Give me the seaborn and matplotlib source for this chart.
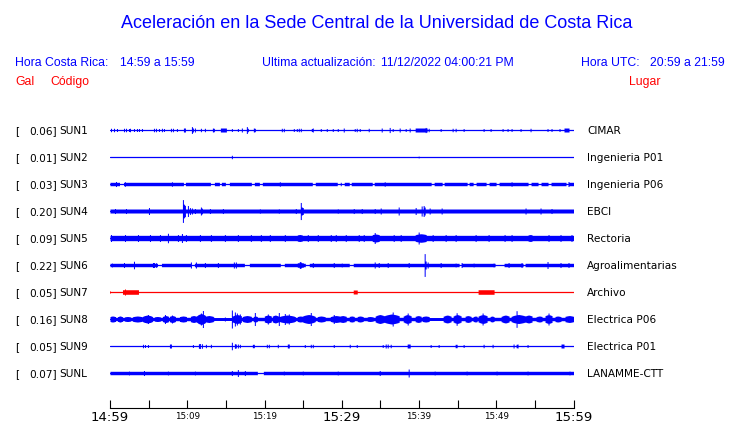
import numpy as np
import matplotlib
matplotlib.use("Agg")
import matplotlib.pyplot as plt
import matplotlib.transforms as mtransforms
import seaborn as sns

# ---------------- data ----------------
TITLE = "Aceleración en la Sede Central de la Universidad de Costa Rica"
LOCAL_LABEL = "Hora Costa Rica:"
LOCAL_RANGE = "14:59 a 15:59"
UPDATE_LABEL = "Ultima actualización:"
UPDATE_VALUE = "11/12/2022 04:00:21 PM"
UTC_LABEL = "Hora UTC:"
UTC_RANGE = "20:59 a 21:59"

CODES = ["SUN1", "SUN2", "SUN3", "SUN4", "SUN5", "SUN6", "SUN7", "SUN8", "SUN9", "SUNL"]
PLACES = ["CIMAR", "Ingenieria P01", "Ingenieria P06", "EBCI", "Rectoria",
          "Agroalimentarias", "Archivo", "Electrica P06", "Electrica P01", "LANAMME-CTT"]
PEAK_GAL = [0.06, 0.01, 0.03, 0.20, 0.09, 0.22, 0.05, 0.16, 0.05, 0.07]
TRACE_COLORS = ["#0000ff"] * 6 + ["#ff0000"] + ["#0000ff"] * 3
# continuous noise band half-amplitude (Gal); 0 = plain line
BASE_GAL = [0.0, 0.0, 0.03, 0.035, 0.047, 0.03, 0.0, 0.03, 0.0, 0.03]
# envelope shape of the bursts of each trace
BURST_SHAPE = ["block", "block", "block", "block", "spindle",
               "block", "block", "spindle", "block", "block"]

# minutes after 14:59 -> half amplitude (Gal)
SPIKES_SUN1 = [(0.13, .03), (0.56, .03), (0.9, .026), (1.85, .03), (2.1, .03), (2.4, .026), (2.6, .03),
               (3.14, .026), (3.5, .026), (3.8, .026), (4.1, .026), (5.7, .03), (5.9, .03), (6.4, .026),
               (6.7, .03), (7.0, .026), (7.9, .03), (8.2, .03), (8.6, .026), (9.55, .035), (9.7, .035),
               (10.6, .06), (10.75, .035), (11.0, .035), (11.75, .03), (12.26, .03), (13.3, .035),
               (13.5, .03), (15.8, .026), (16.5, .026), (17.1, .035), (17.7, .06), (17.9, .03),
               (18.6, .035), (18.8, .03), (22.3, .03), (22.5, .03), (23.8, .026), (24.2, .026),
               (24.5, .03), (24.7, .03), (26.1, .026), (26.3, .035), (27.3, .026), (28.1, .026),
               (28.9, .026), (29.5, .026), (30.3, .035), (31.7, .026), (32.0, .03), (32.3, .026),
               (33.5, .03), (35.2, .035), (36.2, .045), (36.6, .026), (37.5, .035), (38.3, .026),
               (38.8, .035), (40.8, .045), (41.3, .03), (42.8, .026), (44.3, .03), (44.8, .03),
               (45.8, .026), (48.3, .026), (49.3, .026), (50.8, .026), (51.5, .026), (52.0, .026),
               (53.1, .026), (54.5, .03), (56.6, .026), (57.2, .026), (58.2, .026), (59.1, .035)]
BURSTS_SUN1 = [(14.3, 15.05, .035), (39.6, 41.0, .035), (58.9, 59.3, .035)]
GAPS_SUN1 = []

SPIKES_SUN2 = [(15.8, .03), (39.9, .015)]
BURSTS_SUN2 = []
GAPS_SUN2 = []

SPIKES_SUN3 = [(0.77, .044), (2.0, .04), (8.0, .04), (22.0, .04), (35.5, .04), (52.0, .04), (59.4, .044)]
BURSTS_SUN3 = []
GAPS_SUN3 = [(1.29, 1.72, 0), (9.6, 9.75, 0), (13.0, 13.5, 0), (14.2, 14.4, 0), (15.05, 15.35, 0),
             (18.3, 18.6, 0), (19.35, 19.65, 0), (26.2, 26.45, 0), (29.45, 29.7, 0), (30.0, 30.2, 0),
             (31.0, 31.2, 0), (34.0, 34.2, 0), (41.7, 41.95, 0), (43.0, 43.2, 0), (46.25, 46.45, 0),
             (47.1, 47.3, 0), (48.8, 49.0, 0), (50.1, 50.3, 0), (54.2, 54.4, 0), (55.5, 55.7, 0),
             (56.8, 57.0, 0), (59.1, 59.35, 0)]

SPIKES_SUN4 = [(0.65, .044), (2.02, .044), (5.07, .061), (9.42, .2), (9.55, .12), (9.68, .1),
               (10.1, .096), (10.3, .06), (10.54, .053), (10.97, .044), (11.83, .07), (11.95, .05),
               (12.95, .044), (14.6, .044), (19.4, .04), (21.9, .04), (24.0, .044), (24.7, .15),
               (24.85, .07), (25.0, .061), (29.5, .04), (31.5, .044), (32.6, .044), (34.3, .044),
               (35.05, .053), (37.4, .07), (39.6, .061), (40.4, .088), (40.55, .096), (40.7, .07),
               (41.4, .053), (42.9, .053), (53.8, .053), (55.7, .053), (57.2, .044)]
BURSTS_SUN4 = []
GAPS_SUN4 = []

SPIKES_SUN5 = [(0.13, .061), (1.94, .061), (3.66, .061), (5.16, .061), (6.45, .061), (7.53, .083),
               (8.82, .061), (9.33, .079), (9.89, .061), (11.61, .061), (13.12, .061), (14.84, .061),
               (16.56, .061), (18.28, .061), (19.57, .061), (20.65, .061), (22.58, .061), (24.52, .061),
               (25.59, .061), (26.88, .061), (28.6, .061), (29.25, .061), (30.54, .061), (32.26, .061),
               (32.9, .061), (34.3, .096), (36.77, .061), (37.63, .061), (39.9, .105), (41.72, .061),
               (43.4, .061), (44.7, .061), (47.3, .061), (48.96, .061), (51.1, .061), (51.98, .061),
               (56.77, .061), (58.3, .061), (59.78, .061)]
BURSTS_SUN5 = [(33.97, 34.8, .07), (39.6, 40.9, .075), (24.3, 24.8, .061), (54.2, 54.6, .061)]
GAPS_SUN5 = []

SPIKES_SUN6 = [(0.2, .035), (1.85, .044), (3.1, .066), (5.5, .044), (5.75, .044), (5.95, .04),
               (10.45, .053), (11.18, .053), (12.34, .044), (13.98, .044), (16.0, .053), (16.25, .053),
               (24.55, .061), (24.7, .053), (26.24, .044), (29.03, .044), (30.0, .035), (34.3, .053),
               (34.8, .044), (35.9, .044), (38.7, .044), (40.7, .2), (40.85, .07), (41.1, .053),
               (42.8, .044), (44.7, .035), (45.5, .044), (47.1, .035), (49.7, .035), (51.6, .044),
               (53.3, .044), (56.7, .061), (58.3, .044), (59.4, .044)]
BURSTS_SUN6 = [(24.3, 24.9, .04)]
GAPS_SUN6 = [(6.24, 6.58, 0), (10.6, 10.9, 0), (17.4, 18.0, 0), (22.06, 22.5, 0), (25.4, 25.7, 0),
             (31.0, 31.4, 0), (45.2, 45.45, 0), (49.9, 51.0, 0), (53.5, 53.7, 0)]

SPIKES_SUN7 = [(0.0, .026), (1.9, .053)]
BURSTS_SUN7 = [(1.63, 3.66, .04), (31.6, 32.0, .035), (47.7, 49.7, .04)]
GAPS_SUN7 = []

SPIKES_SUN8 = [(4.9, .079), (7.1, .079), (7.96, .07), (11.83, .105), (12.04, .149), (14.84, .035),
               (15.78, .158), (16.13, .123), (16.47, .105), (16.77, .088), (18.71, .114), (20.43, .088),
               (21.8, .114), (22.58, .096), (23.2, .088), (26.02, .114), (29.0, .079), (36.56, .123),
               (38.49, .105), (44.82, .11), (48.26, .105), (52.69, .146), (56.77, .105)]
BURSTS_SUN8 = [(0.0, 0.65, .053), (1.08, 1.5, .053), (1.94, 2.58, .044), (3.0, 4.09, .053),
               (4.3, 5.38, .07), (5.8, 6.45, .044), (6.88, 7.53, .061), (7.74, 8.38, .061),
               (9.03, 9.89, .053), (10.45, 11.18, .061), (11.3, 12.3, .096), (12.26, 13.33, .061),
               (15.9, 17.0, .079), (17.2, 18.28, .061), (18.6, 19.0, .053), (20.0, 20.86, .07),
               (21.07, 21.72, .07), (22.0, 23.87, .07), (24.3, 24.95, .053), (24.95, 26.45, .079),
               (26.88, 27.74, .053), (28.6, 29.9, .061), (29.68, 30.54, .061), (30.97, 31.61, .053),
               (32.04, 32.69, .053), (33.33, 33.98, .044), (34.41, 35.48, .079), (35.48, 37.42, .088),
               (38.06, 38.92, .079), (39.57, 40.22, .061), (40.43, 41.29, .053), (43.22, 44.08, .07),
               (44.5, 45.38, .079), (46.0, 46.66, .061), (47.1, 47.5, .053), (47.74, 48.8, .079),
               (49.3, 49.6, .053), (50.75, 51.61, .07), (52.04, 53.76, .079), (53.76, 54.62, .07),
               (55.27, 55.91, .053), (56.34, 57.2, .079), (57.63, 58.28, .053), (58.92, 60.0, .061)]
GAPS_SUN8 = [(13.55, 15.7, .026), (41.29, 43.0, .026)]

SPIKES_SUN9 = [(4.3, .03), (4.5, .026), (4.95, .026), (7.75, .035), (7.85, .035), (10.75, .026),
               (11.5, .04), (11.7, .044), (11.9, .04), (12.47, .03), (13.1, .03), (15.83, .066),
               (16.1, .04), (16.3, .035), (16.56, .035), (16.8, .03), (18.5, .03), (18.65, .03),
               (20.3, .03), (20.5, .03), (21.7, .03), (23.0, .035), (23.2, .035), (25.16, .026),
               (26.0, .03), (26.2, .03), (29.03, .026), (31.0, .03), (32.0, .026), (35.3, .026),
               (35.7, .035), (36.0, .035), (36.3, .03), (41.5, .026), (42.6, .026), (44.7, .03),
               (44.9, .03), (45.8, .026), (48.4, .03), (49.5, .03), (52.3, .035), (52.6, .03),
               (52.8, .035), (54.0, .026)]
BURSTS_SUN9 = [(7.7, 7.9, .035), (38.5, 38.8, .035), (58.5, 58.75, .035)]
GAPS_SUN9 = []

SPIKES_SUNL = [(2.5, .035), (4.43, .044), (7.5, .035), (11.0, .035), (15.83, .044), (16.56, .061),
               (17.42, .044), (22.5, .035), (25.0, .035), (29.5, .035), (34.9, .044), (38.7, .07),
               (42.0, .035), (46.2, .035), (50.0, .035), (54.0, .035), (59.5, .035)]
BURSTS_SUNL = []
GAPS_SUNL = [(19.14, 19.78, 0)]

SPIKES = [SPIKES_SUN1, SPIKES_SUN2, SPIKES_SUN3, SPIKES_SUN4, SPIKES_SUN5,
          SPIKES_SUN6, SPIKES_SUN7, SPIKES_SUN8, SPIKES_SUN9, SPIKES_SUNL]
BURSTS = [BURSTS_SUN1, BURSTS_SUN2, BURSTS_SUN3, BURSTS_SUN4, BURSTS_SUN5,
          BURSTS_SUN6, BURSTS_SUN7, BURSTS_SUN8, BURSTS_SUN9, BURSTS_SUNL]
GAPS = [GAPS_SUN1, GAPS_SUN2, GAPS_SUN3, GAPS_SUN4, GAPS_SUN5,
        GAPS_SUN6, GAPS_SUN7, GAPS_SUN8, GAPS_SUN9, GAPS_SUNL]

TICK_MINUTES = [0, 5, 10, 15, 20, 25, 30, 35, 40, 45, 50, 55, 60]
TICK_LABELS_BIG = {0: "14:59", 30: "15:29", 60: "15:59"}
TICK_LABELS_SMALL = {10: "15:09", 20: "15:19", 40: "15:39", 50: "15:49"}

# ---------------- style ----------------
sns.set_theme(style="white")
plt.rcParams["font.family"] = ["DejaVu Sans"]
BLUE = "#0000ff"
RED = "#ff0000"
W, H = 740, 423
GAL_TO_UNITS = 57.0 / 27.0   # one trace spacing = 27 px

fig = plt.figure(figsize=(W / 100, H / 100), dpi=100)
fig.patch.set_facecolor("white")
ax = fig.add_axes([110 / W, (H - 408) / H, (573.5 - 110) / W, (408 - 115) / H])
ax.set_facecolor("white")
ax.set_xlim(0, 60)
ax.set_ylim(10.296, -0.556)

t = np.linspace(0, 60, 465)
dt = t[1] - t[0]
for i in range(len(CODES)):
    col = TRACE_COLORS[i]
    base = BASE_GAL[i]
    env = np.full_like(t, base)
    for (a, b, lo) in GAPS[i]:
        m = (t >= a - dt / 2) & (t <= b + dt / 2)
        env[m] = np.minimum(env[m], lo)
    for (a, b, amp) in BURSTS[i]:
        m = (t >= a - dt / 2) & (t <= b + dt / 2)
        if BURST_SHAPE[i] == "spindle":
            c = 0.5 * (a + b)
            hw = 0.5 * (b - a) + dt
            w = np.clip(1 - np.abs(t[m] - c) / hw, 0, 1) ** 0.4
            env[m] = np.maximum(env[m], base + (amp - base) * w)
        else:
            env[m] = np.maximum(env[m], amp)
    for (ts, amp) in SPIKES[i]:
        k = int(np.argmin(np.abs(t - ts)))
        env[k] = max(env[k], amp)
    h = env * GAL_TO_UNITS
    ax.fill_between(t, i - h, i + h, step="mid", color=col, lw=0, antialiased=False)
    sns.lineplot(x=[0, 60], y=[i, i], color=col, lw=0.9, ax=ax, legend=False)

for s in ["top", "left", "right"]:
    ax.spines[s].set_visible(False)
ax.spines["bottom"].set_color("black")
ax.spines["bottom"].set_linewidth(0.8)
ax.set_yticks([])
ax.set_xticks(TICK_MINUTES)
ax.set_xticklabels([""] * len(TICK_MINUTES))
ax.tick_params(axis="x", direction="in", length=5.8, width=0.8, color="black", bottom=True)
ax.set_xlabel("")
ax.set_ylabel("")

tr = mtransforms.blended_transform_factory(ax.transData, fig.transFigure)
for m, lab in TICK_LABELS_BIG.items():
    ax.text(m, 1 - 421 / H, lab, transform=tr, ha="center", va="baseline", fontsize=9.5,
            color="black", family="DejaVu Sans")
for m, lab in TICK_LABELS_SMALL.items():
    ax.text(m, 1 - 418.5 / H, lab, transform=tr, ha="center", va="baseline", fontsize=6.3,
            color="black", family="DejaVu Sans")

# ---------------- header ----------------
def ftext(x, y, s, **kw):
    fig.text(x / W, 1 - y / H, s, va="baseline", **kw)

HF = "Liberation Sans"
ftext(377, 28.5, TITLE, ha="center", fontsize=13, color=BLUE, family=HF)
ftext(15, 65.5, LOCAL_LABEL, ha="left", fontsize=8.8, color=BLUE, family=HF)
ftext(120, 65.5, LOCAL_RANGE, ha="left", fontsize=8.8, color=BLUE, family=HF)
ftext(262, 65.5, UPDATE_LABEL, ha="left", fontsize=8.8, color=BLUE, family=HF)
ftext(381, 65.5, UPDATE_VALUE, ha="left", fontsize=8.8, color=BLUE, family=HF)
ftext(581, 65.5, UTC_LABEL, ha="left", fontsize=8.8, color=BLUE, family=HF)
ftext(650, 65.5, UTC_RANGE, ha="left", fontsize=8.8, color=BLUE, family=HF)
ftext(15, 85, "Gal", ha="left", fontsize=8.8, color=RED, family=HF)
ftext(50, 85, "Código", ha="left", fontsize=8.8, color=RED, family=HF)
ftext(629, 85, "Lugar", ha="left", fontsize=8.8, color=RED, family=HF)

for i in range(len(CODES)):
    yb = 130 + 27 * i + 3.8
    ftext(15, yb, "[", ha="left", fontsize=7.6, color="black")
    ftext(57, yb, f"{PEAK_GAL[i]:.2f}]", ha="right", fontsize=7.6, color="black")
    ftext(59, yb, CODES[i], ha="left", fontsize=7.6, color="black")
    ftext(587, yb, PLACES[i], ha="left", fontsize=7.6, color="black")

fig.savefig("out.png", dpi=100, facecolor="white")
